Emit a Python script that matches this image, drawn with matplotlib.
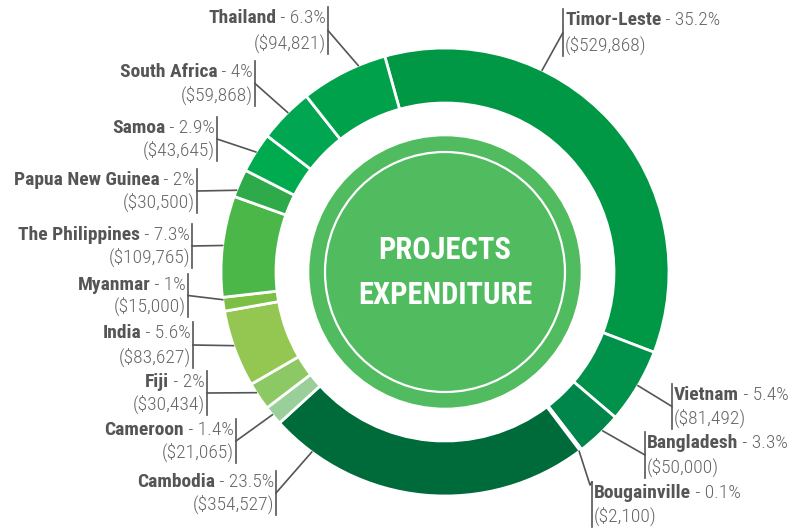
import matplotlib.pyplot as plt
from matplotlib.patches import Circle
import numpy as np

# data, clockwise from Timor-Leste
countries = ["Timor-Leste", "Vietnam", "Bangladesh", "Bougainville", "Cambodia",
             "Cameroon", "Fiji", "India", "Myanmar", "The Philippines",
             "Papua New Guinea", "Samoa", "South Africa", "Thailand"]
amounts = [529868, 81492, 50000, 2100, 354527, 21065, 30434, 83627, 15000,
           109765, 30500, 43645, 59868, 94821]
percents = ["35.2%", "5.4%", "3.3%", "0.1%", "23.5%", "1.4%", "2%", "5.6%", "1%",
            "7.3%", "2%", "2.9%", "4%", "6.3%"]
colors = ["#009845", "#00914b", "#00854a", "#007a42", "#006b3a", "#99cf98",
          "#8cc863", "#94c752", "#7bbf45", "#4cb749", "#2eaa4a", "#00ab4f",
          "#00a651", "#00a14b"]

# label layout: side, bar x, first line y, second line y, leader angle (deg from top, clockwise)
layout = {
    "Timor-Leste": ("R", 563, 20, 45, 25.7),
    "Vietnam": ("R", 672, 395, 418, 120.5),
    "Bangladesh": ("R", 645, 443, 467, 135.2),
    "Bougainville": ("R", 592, 493, 516, 143.2),
    "Cambodia": ("L", 276, 482, 504, 216.5),
    "Cameroon": ("L", 236, 430, 452, 230.4),
    "Fiji": ("L", 207, 382, 404, 237.4),
    "India": ("L", 193, 333, 357, 250.8),
    "Myanmar": ("L", 188, 285, 306, 262.9),
    "The Philippines": ("L", 192, 235, 257, 276.8),
    "Papua New Guinea": ("L", 197, 180, 202, 291.4),
    "Samoa": ("L", 217, 128, 150, 302.4),
    "South Africa": ("L", 255, 72, 95, 315.4),
    "Thailand": ("L", 328, 18, 43, 337.2),
}

fam = ["Roboto Condensed", "Liberation Sans Narrow", "Roboto", "DejaVu Sans"]

W, H = 799, 529
fig = plt.figure(figsize=(W / 100, H / 100), dpi=100)
ax = fig.add_axes([0, 0, 1, 1])

cx, cy = 445, H - 272
R = 224

ax.pie(amounts, colors=colors, startangle=105.6, counterclock=False,
       center=(cx, cy), radius=R, frame=True,
       wedgeprops=dict(width=55, edgecolor="white", linewidth=2.0))

ax.add_patch(Circle((cx, cy), 135, color="#50bb5f", zorder=3))
ax.add_patch(Circle((cx, cy), 120, fill=False, edgecolor="white", lw=1.6, zorder=4))
ax.text(cx, cy + 22, "PROJECTS", color="white", fontsize=22, fontweight="bold",
        ha="center", va="center", zorder=5, family=fam)
ax.text(cx, cy - 23, "EXPENDITURE", color="white", fontsize=22, fontweight="bold",
        ha="center", va="center", zorder=5, family=fam)

ax.set_xlim(0, W)
ax.set_ylim(0, H)
ax.set_aspect("auto")
ax.axis("off")

name_color = "#555555"
val_color = "#666666"
fs = 14

fig.canvas.draw()
renderer = fig.canvas.get_renderer()

for name, amt, pct in zip(countries, amounts, percents):
    side, bx, y1, y2, ang = layout[name]
    Y1, Y2 = H - y1, H - y2
    # bar
    ax.plot([bx, bx], [Y1 + 11, Y2 - 11], color="#555555", lw=1.2)
    # leader
    a = np.radians(ang)
    px, py = cx + R * np.sin(a), cy + R * np.cos(a)
    if name == "Bougainville":
        ax.plot([px, bx - 2, bx], [py, Y1 + 8, Y1 + 11], color="#555555", lw=1.2)
    else:
        ax.plot([bx, px], [(Y1 + Y2) / 2, py], color="#555555", lw=1.2)
    amt_txt = "($" + format(amt, ",") + ")"
    if side == "L":
        t = ax.text(bx - 2, Y1, " - " + pct, ha="right", va="center", fontsize=fs,
                    color=val_color, family=fam, fontweight="light")
        bb = t.get_window_extent(renderer)
        ax.text(bb.x0, Y1, name, ha="right", va="center", fontsize=fs,
                fontweight="bold", color=name_color, family=fam)
        ax.text(bx - 2, Y2, amt_txt, ha="right", va="center", fontsize=fs,
                color=val_color, family=fam, fontweight="light")
    else:
        t = ax.text(bx + 2, Y1, name, ha="left", va="center", fontsize=fs,
                    fontweight="bold", color=name_color, family=fam)
        bb = t.get_window_extent(renderer)
        ax.text(bb.x1, Y1, " - " + pct, ha="left", va="center", fontsize=fs,
                color=val_color, family=fam, fontweight="light")
        ax.text(bx + 2, Y2, amt_txt, ha="left", va="center", fontsize=fs,
                color=val_color, family=fam, fontweight="light")

plt.savefig("out.png", dpi=100)
